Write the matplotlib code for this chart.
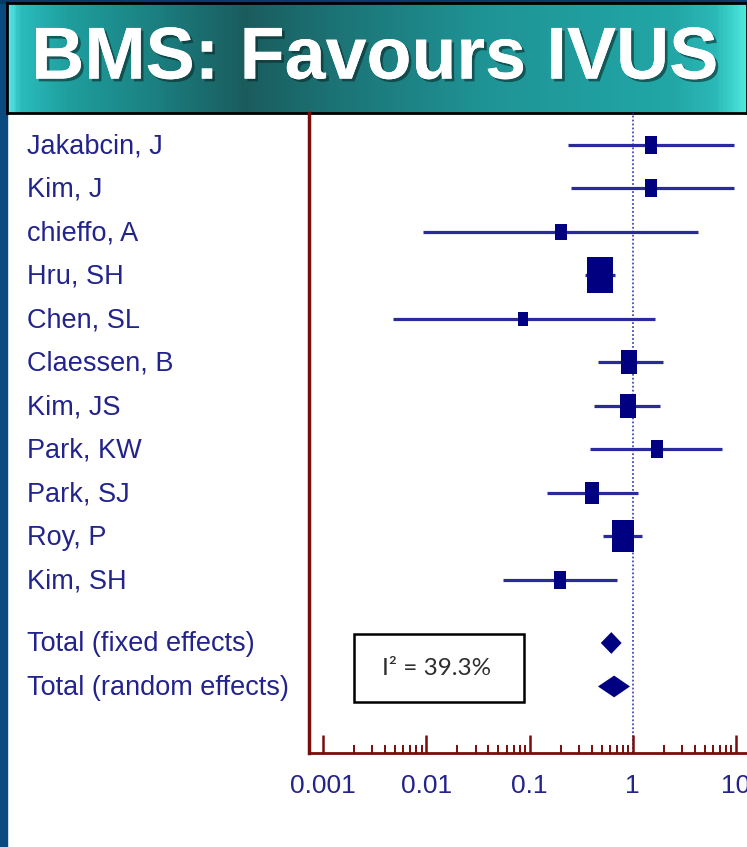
import numpy as np
import matplotlib
matplotlib.use("Agg")
import matplotlib.pyplot as plt
from matplotlib.colors import LinearSegmentedColormap
from matplotlib.patches import Rectangle
from matplotlib.transforms import blended_transform_factory
import matplotlib.patheffects as pe
from matplotlib.ticker import FixedLocator, NullFormatter

# data
title = "BMS: Favours IVUS"
studies = ["Jakabcin, J", "Kim, J", "chieffo, A", "Hru, SH", "Chen, SL",
           "Claessen, B", "Kim, JS", "Park, KW", "Park, SJ", "Roy, P", "Kim, SH"]
est = [1.50, 1.50, 0.20, 0.48, 0.087, 0.93, 0.89, 1.71, 0.40, 0.80, 0.196]
lo = [0.238, 0.25, 0.0092, 0.345, 0.0047, 0.458, 0.42, 0.386, 0.146, 0.52, 0.055]
hi = [9.6, 9.6, 4.26, 0.68, 1.66, 1.97, 1.83, 7.33, 1.12, 1.23, 0.71]
weight = [5.5, 5.5, 4.7, 23.2, 3.6, 9.6, 9.5, 5.7, 8.3, 18.8, 5.7]
pooled = ["Total (fixed effects)", "Total (random effects)"]
pooled_est = [0.62, 0.66]
pooled_lo = [0.49, 0.46]
pooled_hi = [0.78, 0.94]
i2 = 39.3
ticks = [0.001, 0.01, 0.1, 1, 10]
tick_labels = ["0.001", "0.01", "0.1", "1", "10"]

W, H = 747, 847
navy = "#000080"
label_col = "#23238c"
axis_col = "#7a0c0c"

fig = plt.figure(figsize=(W / 100, H / 100), dpi=100)
fig.patch.set_facecolor("white")

# left strip and top edge
fig.add_artist(Rectangle((0, 0), 7 / W, 1, transform=fig.transFigure, color="#0b4a7e", zorder=0))
fig.add_artist(Rectangle((0, 1 - 3 / H), 1, 3 / H, transform=fig.transFigure, color="#0b3a66", zorder=0))

# title banner
bax = fig.add_axes([7 / W, (H - 113) / H, (W - 7) / W, 110 / H])
cmap = LinearSegmentedColormap.from_list("banner", [
    (0, "#55e5e5"), (0.015, "#2bbcbc"), (0.08, "#1f9e9e"), (0.2, "#1b7f80"),
    (0.32, "#1a5c5e"), (0.45, "#1c7476"), (0.65, "#1f9496"), (0.9, "#22a6a6"),
    (0.96, "#2ab8b6"), (1.0, "#4de6dc")])
bax.imshow(np.linspace(0, 1, 400)[None, :], aspect="auto", cmap=cmap, extent=[0, 1, 0, 1])
bax.set_xlim(0, 1)
bax.set_ylim(0, 1)
bax.set_xticks([])
bax.set_yticks([])
for s in bax.spines.values():
    s.set_color("black")
    s.set_linewidth(2)
bax.text(0.497, 0.49, title, ha="center", va="center", color="white", fontsize=53,
         fontweight="bold", family="Liberation Sans",
         path_effects=[pe.withSimplePatchShadow(offset=(2, -2), shadow_rgbFace="#0a2a2a", alpha=0.6),
                       pe.Normal()])

# forest plot axes
left, right = 309, W
top, bottom = 113, 753
ax = fig.add_axes([left / W, (H - bottom) / H, (right - left) / W, (bottom - top) / H])
ax.set_xscale("log")
ax.set_xlim(10 ** -3.137, 10 ** 1.107)
ax.set_ylim(13.98, -0.736)
ax.patch.set_alpha(0)

ypos = np.arange(len(studies))
ypool = [11.45, 12.45]

ax.axvline(1, color="#4848c8", lw=1.3, ls=(0, (1, 1.2)), zorder=1)

ax.hlines(ypos, lo, hi, color="#2a2a9a", lw=2.3, zorder=2)
rect = [(-0.69, -1), (0.69, -1), (0.69, 1), (-0.69, 1), (-0.69, -1)]
for x, y, w in zip(est, ypos, weight):
    ax.plot(x, y, marker=rect, ms=7.54 * np.sqrt(w) * 0.72, color=navy, mec=navy, mew=0, zorder=3)

for e, l, h, y in zip(pooled_est, pooled_lo, pooled_hi, ypool):
    ax.fill([l, e, h, e], [y, y - 0.25, y, y + 0.25], color=navy, lw=0, zorder=3)

# labels
tr = blended_transform_factory(fig.transFigure, ax.transData)
for name, y in zip(studies + pooled, list(ypos) + ypool):
    ax.text(27 / W, y + 0.03, name, transform=tr, ha="left", va="center", fontsize=19.5,
            family="Liberation Sans", color=label_col, clip_on=False)

# heterogeneity box
fig.add_artist(Rectangle((354 / W, (H - 702) / H), 170 / W, 68 / H, transform=fig.transFigure,
                         fill=False, ec="black", lw=1.8))
fig.text(437 / W, (H - 668) / H, f"I\u00b2 = {i2}%", ha="center", va="center",
         fontsize=17.5, family="Lato", color="#2e2e2e")

# axes styling
for s in ["top", "right"]:
    ax.spines[s].set_visible(False)
ax.spines["left"].set_color(axis_col)
ax.spines["left"].set_linewidth(2.5)
ax.spines["bottom"].set_color(axis_col)
ax.spines["bottom"].set_linewidth(2)
ax.set_yticks([])
ax.xaxis.set_major_locator(FixedLocator(ticks))
ax.set_xticklabels(tick_labels, fontsize=19, family="Liberation Sans", color=label_col)
minors = [m * 10.0 ** k for k in range(-3, 2) for m in range(2, 10)]
ax.xaxis.set_minor_locator(FixedLocator(minors))
ax.xaxis.set_minor_formatter(NullFormatter())
ax.tick_params(axis="x", which="major", direction="in", length=13, width=1.8, color=axis_col, pad=15)
ax.tick_params(axis="x", which="minor", direction="in", length=6, width=1.4, color=axis_col)

fig.savefig("out.png", dpi=100)
